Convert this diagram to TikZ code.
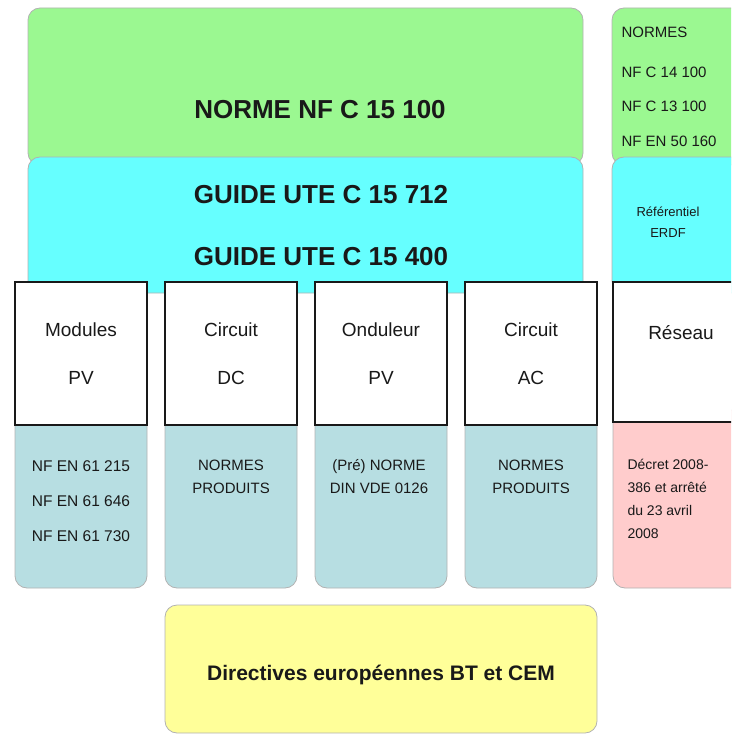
\documentclass[tikz,border=0pt]{standalone}
\usepackage{fontspec}
\setmainfont{Liberation Sans}
\usepackage{xcolor}
\definecolor{vertnorme}{RGB}{155,248,145}
\definecolor{cyanguide}{RGB}{102,255,255}
\definecolor{bleuprod}{RGB}{183,222,226}
\definecolor{rosedecret}{RGB}{255,204,204}
\definecolor{jaunedir}{RGB}{255,255,153}

\begin{document}
\begin{tikzpicture}[x=1pt,y=-1pt,
    bloc/.style={shape=rectangle,rounded corners=12pt,draw=black!30,line width=0.8pt,inner sep=0pt},
    partie/.style={shape=rectangle,draw=black!90,line width=2.6pt,fill=white,inner sep=0pt,
      minimum width=132pt,minimum height=143pt,align=center,text=black!90,
      font=\fontsize{19}{48}\selectfont},
    titre/.style={text=black!90,font=\fontsize{26}{30}\selectfont\bfseries},
    petit/.style={text=black!90,align=center,font=\fontsize{15}{23}\selectfont}]
      %\draw[help lines] (0,0) grid[step=50pt] (731,735); % Only for Development
      \useasboundingbox (0,0) rectangle (731,735);
      \clip (0,0) rectangle (731,735);

      % normes et guides
      \node[bloc,fill=vertnorme,
        minimum width = 555pt,
        minimum height = 157pt] (nfc) at (305.5,86.5) {};
      \node[bloc,fill=vertnorme,
        minimum width = 133pt,
        minimum height = 157pt] (normes) at (678.5,86.5) {};
      \node[bloc,fill=cyanguide,
        minimum width = 555pt,
        minimum height = 136pt] (ute) at (305.5,225) {};
      \node[bloc,fill=cyanguide,
        minimum width = 133pt,
        minimum height = 136pt] (erdf) at (678.5,225) {};

      \node[titre] (nfctxt) at (320,110) {NORME NF C 15 100};
      \node[titre] (ute712) at (321,195) {GUIDE UTE C 15 712};
      \node[titre] (ute400) at (321,257) {GUIDE UTE C 15 400};

      \node[petit,anchor=west] (normes1) at (618,32) {NORMES};
      \node[petit,anchor=west] (normes2) at (618,72) {NF C 14 100};
      \node[petit,anchor=west] (normes3) at (618,106) {NF C 13 100};
      \node[petit,anchor=west] (normes4) at (618,141) {NF EN 50 160};
      \node[petit,font=\fontsize{13}{21}\selectfont] (erdftxt) at (668,222) {Référentiel\\ERDF};

      % normes produits
      \node[bloc,fill=bleuprod,
        minimum width = 132pt,
        minimum height = 178pt] (normmod) at (81,499) {};
      \node[bloc,fill=bleuprod,
        minimum width = 132pt,
        minimum height = 178pt] (normdc) at (231,499) {};
      \node[bloc,fill=bleuprod,
        minimum width = 132pt,
        minimum height = 178pt] (normond) at (381,499) {};
      \node[bloc,fill=bleuprod,
        minimum width = 132pt,
        minimum height = 178pt] (normac) at (531,499) {};
      \node[bloc,fill=rosedecret,
        minimum width = 133pt,
        minimum height = 178pt] (decret) at (679.5,499) {};

      % parties de l'installation
      \node[partie] (modules) at (81,353.5) {Modules\\PV};
      \node[partie] (circdc) at (231,353.5) {Circuit\\DC};
      \node[partie] (onduleur) at (381,353.5) {Onduleur\\PV};
      \node[partie] (circac) at (531,353.5) {Circuit\\AC};
      \node[partie,
        minimum width = 133pt,
        minimum height = 140pt] (reseau) at (679.5,352) {};
      \node[text=black!90,font=\fontsize{19}{24}\selectfont] (reseautxt) at (681,333) {Réseau};

      \node[petit,font=\fontsize{15.5}{35}\selectfont] (modtxt) at (81,501) {NF EN 61 215\\NF EN 61 646\\NF EN 61 730};
      \node[petit] (dctxt) at (231,477) {NORMES\\PRODUITS};
      \node[petit] (ondtxt) at (379,477) {(Pré) NORME\\DIN VDE 0126};
      \node[petit] (actxt) at (531,477) {NORMES\\PRODUITS};
      \node[petit,font=\fontsize{14}{23}\selectfont,align=left,anchor=north west] (decrettxt) at (624,456) {Décret 2008-\\386 et arrêté\\du 23 avril\\2008};

      % directives
      \node[bloc,fill=jaunedir,
        minimum width = 432pt,
        minimum height = 128pt] (directives) at (381,669) {};
      \node[text=black!90,font=\fontsize{21}{24}\selectfont\bfseries] (dirtxt) at (381,675) {Directives européennes BT et CEM};

    \end{tikzpicture}
\end{document}
